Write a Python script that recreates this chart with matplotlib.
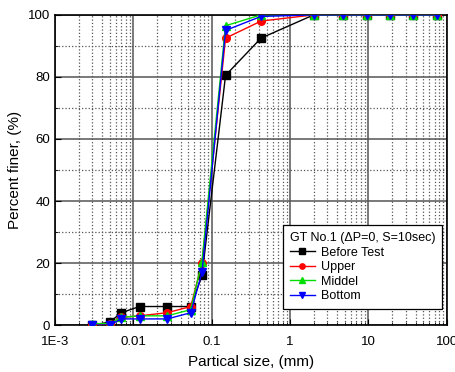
import numpy as np
import matplotlib
matplotlib.use("Agg")
import matplotlib.pyplot as plt
from matplotlib.ticker import LogLocator, FixedLocator, NullFormatter

plt.rcParams['font.family'] = ['Liberation Sans', 'DejaVu Sans']

size = [0.003, 0.005, 0.007, 0.012, 0.027, 0.054, 0.075, 0.15, 0.425,
        2.0, 4.75, 9.5, 19.0, 37.5, 75.0]
before = [0, 1, 4, 6, 6, 6, 16, 80.5, 92.5, 100, 100, 100, 100, 100, 100]
upper = [0, 0.5, 2.5, 3, 4, 6, 20, 92.5, 98, 100, 100, 100, 100, 100, 100]
middle = [0.5, 0.5, 2.5, 3, 3, 5, 20.5, 96.5, 100, 100, 100, 100, 100, 100, 100]
bottom = [0, 0, 2, 2, 2, 4, 17, 95, 99.5, 100, 100, 100, 100, 100, 100]

series = [("Before Test", before, "black", "s"),
          ("Upper", upper, "red", "o"),
          ("Middel", middle, "#00dd00", "^"),
          ("Bottom", bottom, "blue", "v")]

fig = plt.figure(figsize=(4.55, 3.72), dpi=100)
ax = fig.add_axes([0.121, 0.126, 0.861, 0.834])

for name, vals, col, mk in series:
    ax.plot(size, vals, color=col, marker=mk, markersize=5.5, linewidth=1,
            label=name, zorder=3)

ax.set_xscale("log")
ax.set_xlim(1e-3, 100)
ax.set_ylim(0, 100)
ax.set_xticks([1e-3, 1e-2, 1e-1, 1, 10, 100])
ax.set_xticklabels(["1E-3", "0.01", "0.1", "1", "10", "100"])
ax.xaxis.set_minor_locator(LogLocator(base=10, subs=np.arange(2, 10)))
ax.xaxis.set_minor_formatter(NullFormatter())
ax.set_yticks([0, 20, 40, 60, 80, 100])
ax.yaxis.set_minor_locator(FixedLocator([10, 30, 50, 70, 90]))

ax.grid(which="major", color="#555555", linestyle="-", linewidth=1.1)
ax.grid(which="minor", color="#555555", linestyle=":", linewidth=0.9)
ax.tick_params(which="both", direction="in", labelsize=9.5)
ax.tick_params(axis="x", which="major", pad=8)
ax.tick_params(which="major", length=4)
ax.tick_params(which="minor", length=2)
for s in ax.spines.values():
    s.set_linewidth(1.2)

ax.set_xlabel("Partical size, (mm)", fontsize=11, labelpad=5)
ax.set_ylabel("Percent finer, (%)", fontsize=11)

leg = ax.legend(title="GT No.1 (\u0394P=0, S=10sec)", loc="lower left",
                bbox_to_anchor=(0.565, 0.032), fontsize=9,
                title_fontsize=9, fancybox=False, edgecolor="black",
                framealpha=1, markerscale=0.7, handlelength=2.0,
                labelspacing=0.2, borderpad=0.55, handletextpad=0.5)
leg._legend_box.align = "left"
leg.get_frame().set_linewidth(0.9)

fig.savefig("out.png", dpi=100)
